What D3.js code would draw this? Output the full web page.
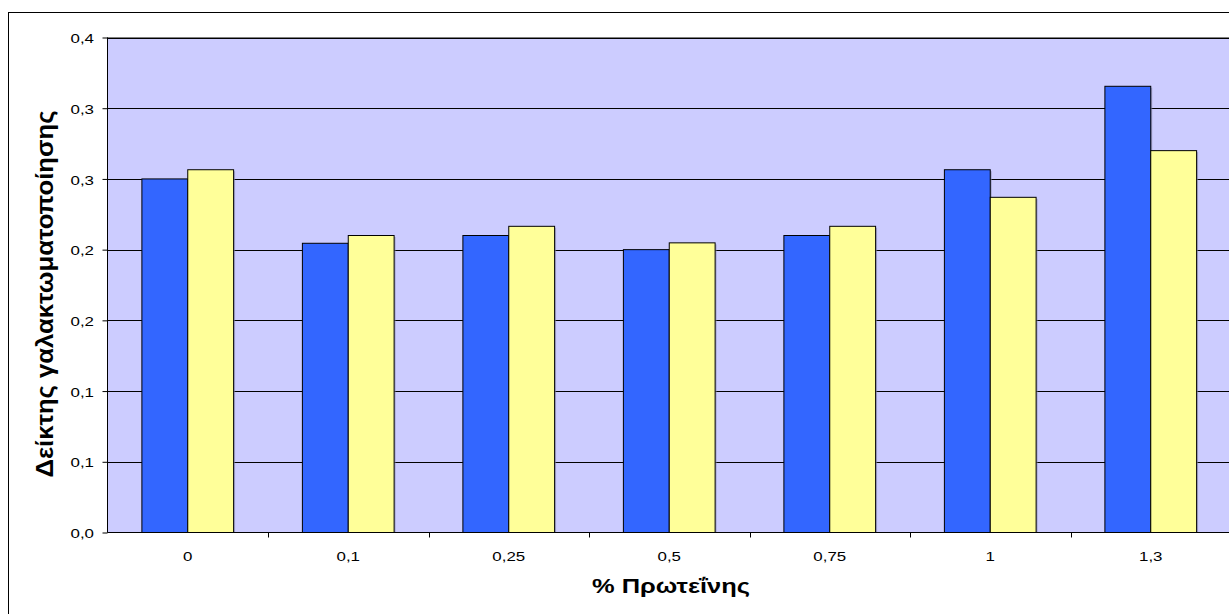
<!DOCTYPE html>
<html><head><meta charset="utf-8">
<script src="https://cdn.jsdelivr.net/npm/d3@7"></script>
<style>html,body{margin:0;padding:0;background:#fff;}svg{display:block;font-family:"Liberation Sans",Arial,sans-serif;}</style>
</head><body><svg id="c" width="1229" height="614"></svg>
<script>
const categories = ["0","0,1","0,25","0,5","0,75","1","1,3"];
const seriesA = [0.250, 0.2045, 0.210, 0.200, 0.210, 0.2565, 0.3155];
const seriesB = [0.2565, 0.210, 0.2165, 0.2048, 0.2165, 0.237, 0.270];
const yTickValues = [0, 0.05, 0.10, 0.15, 0.20, 0.25, 0.30, 0.35];
const yTickLabels = ["0,0","0,1","0,1","0,2","0,2","0,3","0,3","0,4"];
const xTitle = "% Πρωτεΐνης";
const yTitle = "Δείκτης γαλακτωματοποίησης";

const svg = d3.select("#c");
const W = 1229, H = 614;
const L = 107.5, R = 1231, T = 37.5, B = 532.5;
const SX = 1.3; // horizontal stretch of the text in the original

// outer chart border
svg.append("rect").attr("x",8.5).attr("y",12.5).attr("width",W+20).attr("height",H+20)
  .attr("fill","#fff").attr("stroke","#000").attr("stroke-width",1);

const x = d3.scaleBand().domain(categories).range([L,R]);
const y = d3.scaleLinear().domain([0,0.35]).range([B,T]);

// plot area
svg.append("rect").attr("x",L).attr("y",T).attr("width",R-L).attr("height",B-T)
  .attr("fill","#CCCCFF").attr("stroke","#808080").attr("stroke-width",1);

// gridlines
svg.append("g").selectAll("line").data(yTickValues.slice(1)).join("line")
  .attr("x1",L).attr("x2",R).attr("y1",d=>Math.round(y(d))+0.5).attr("y2",d=>Math.round(y(d))+0.5)
  .attr("stroke","#000").attr("stroke-width",1);

const bw = x.bandwidth();
const barW = bw/(2+1.5);
const off = (bw - 2*barW)/2;

const g = svg.append("g");
function shadows(data, idx){
  g.append("g").selectAll("rect").data(data).join("rect")
    .attr("x",(d,i)=>x(categories[i])+off+idx*barW+1.5)
    .attr("y",d=>y(d)+1.5)
    .attr("width",barW).attr("height",d=>B-y(d)-1.5)
    .attr("fill","#8a8ab0").attr("opacity",0.6);
}
function bars(data, idx, color){
  g.append("g").selectAll("rect").data(data).join("rect")
    .attr("x",(d,i)=>x(categories[i])+off+idx*barW)
    .attr("y",d=>y(d))
    .attr("width",barW).attr("height",d=>B-y(d))
    .attr("fill",color).attr("stroke","#000").attr("stroke-width",1);
}
shadows(seriesA,0); shadows(seriesB,1);
bars(seriesA,0,"#3366FF"); bars(seriesB,1,"#FFFF99");

// y axis
const yAxis = d3.axisLeft(y).tickValues(yTickValues).tickSize(5).tickPadding(8)
  .tickFormat((d,i)=>yTickLabels[i]);
const ya = svg.append("g").attr("transform",`translate(${L},0)`).call(yAxis);
ya.select(".domain").remove();
ya.selectAll(".tick line").attr("stroke","#000");
ya.selectAll(".tick text").attr("font-size",13).attr("fill","#000")
  .attr("font-family","'Liberation Sans',Arial,sans-serif")
  .attr("x",0).attr("dy","0.4em")
  .attr("transform",`translate(-13.5,0) scale(${SX},1)`);
svg.append("line").attr("x1",L).attr("x2",L).attr("y1",T).attr("y2",B).attr("stroke","#000");

// x axis
const xAxis = d3.axisBottom(x).tickSize(0).tickPadding(19);
const xa = svg.append("g").attr("transform",`translate(0,${B})`).call(xAxis);
xa.select(".domain").remove();
xa.selectAll(".tick text").attr("font-size",13).attr("fill","#000")
  .attr("font-family","'Liberation Sans',Arial,sans-serif")
  .attr("transform",`scale(${SX},1)`);
svg.append("line").attr("x1",L).attr("x2",R).attr("y1",B).attr("y2",B).attr("stroke","#000");
svg.append("g").selectAll("line").data(categories.slice(1)).join("line")
  .attr("x1",d=>Math.round(x(d))+0.5).attr("x2",d=>Math.round(x(d))+0.5)
  .attr("y1",B).attr("y2",B+5).attr("stroke","#000");

// titles
svg.append("text").attr("x",671).attr("y",593).attr("text-anchor","middle")
  .attr("font-size",20).attr("font-weight","bold").attr("fill","#000")
  .attr("textLength",158).attr("lengthAdjust","spacingAndGlyphs").text(xTitle);
svg.append("text").attr("transform",`translate(53,294) rotate(-90) scale(1,${SX})`).attr("text-anchor","middle")
  .attr("font-size",19).attr("font-weight","bold").attr("fill","#000")
  .attr("textLength",367).attr("lengthAdjust","spacingAndGlyphs").text(yTitle);
</script></body></html>
